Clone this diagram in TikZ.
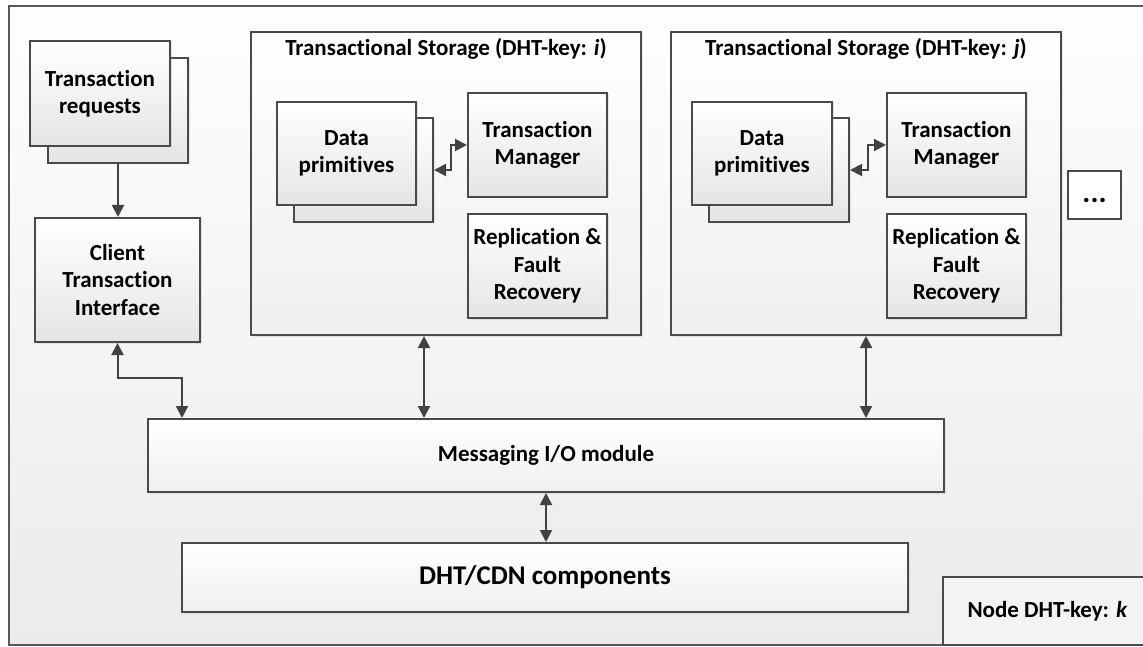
\documentclass[tikz,border=0pt]{standalone}
\usepackage{fontspec}
\setmainfont{Carlito}[Ligatures=NoCommon]
\usetikzlibrary{arrows.meta,shadows,calc}

\definecolor{edgegray}{HTML}{4A4A4A}
\definecolor{arrowgray}{HTML}{424242}
\definecolor{boxbot}{HTML}{E5E5E5}
\definecolor{tsbot}{HTML}{EFEFEF}
\definecolor{framebot}{HTML}{EBEBEB}
\definecolor{frametop}{HTML}{FEFEFE}

\begin{document}
\begin{tikzpicture}[x=1pt,y=-1pt,
  every node/.style={inner sep=0pt, align=center},
  box/.style={draw=edgegray, line width=2pt, top color=white, bottom color=boxbot,
    drop shadow={opacity=0.18, shadow xshift=1.5pt, shadow yshift=-1.5pt}},
  tsbox/.style={draw=edgegray, line width=2pt, top color=white, bottom color=tsbot,
    drop shadow={opacity=0.15, shadow xshift=1.5pt, shadow yshift=-1.5pt}},
  wide/.style={draw=edgegray, line width=2pt, top color=white, bottom color=tsbot,
    drop shadow={opacity=0.15, shadow xshift=1.5pt, shadow yshift=-1.5pt}},
  txt/.style={font=\fontsize{23}{27.5}\selectfont\bfseries},
  ttl/.style={font=\fontsize{23}{27}\selectfont\bfseries},
  tip/.tip={Triangle[length=12pt,width=12pt]},
  conn/.style={draw=arrowgray, line width=2pt, tip-tip},
  oneway/.style={draw=arrowgray, line width=2pt, -tip},
]
\clip (0,0) rectangle (1143,647);

% enclosing node frame
\draw[draw=gray!70!black, line width=1.8pt, top color=frametop, bottom color=framebot]
  (9,6) rectangle (1160,645);

% client side
\node[box, minimum width=140pt, minimum height=105pt] (treqb) at (118,110.5) {};
\node[box, txt, minimum width=140pt, minimum height=105pt] (treq) at (100,93.5) {Transaction\\requests};
\node[box, txt, minimum width=165pt, minimum height=124pt] (client) at (117.5,280) {Client\\Transaction\\Interface};

% transactional storage i
\node[tsbox, minimum width=390pt, minimum height=303pt] (tsi) at (446,183.5) {};
\node[ttl] (tsit) at (446,49) {Transactional Storage (DHT-key: \textit{i})};
\node[box, minimum width=139pt, minimum height=104pt] (dpib) at (363.5,170) {};
\node[box, txt, minimum width=139pt, minimum height=103pt] (dpi) at (346.5,153.5) {Data\\primitives};
\node[box, txt, minimum width=139pt, minimum height=104pt] (tmi) at (537.5,145) {Transaction\\Manager};
\node[box, txt, minimum width=139pt, minimum height=104pt] (rfri) at (537.5,266) {Replication \&\\Fault\\Recovery};

% transactional storage j
\node[tsbox, minimum width=390pt, minimum height=303pt] (tsj) at (866,183.5) {};
\node[ttl] (tsjt) at (866,49) {Transactional Storage (DHT-key: \textit{j})};
\node[box, minimum width=140pt, minimum height=104pt] (dpjb) at (779,170) {};
\node[box, txt, minimum width=140pt, minimum height=103pt] (dpj) at (762,153.5) {Data\\primitives};
\node[box, txt, minimum width=139pt, minimum height=104pt] (tmj) at (956.5,145) {Transaction\\Manager};
\node[box, txt, minimum width=139pt, minimum height=104pt] (rfrj) at (956.5,266) {Replication \&\\Fault\\Recovery};

% further storages
\node[draw=edgegray, line width=2pt, fill=white, font=\fontsize{30}{30}\selectfont\bfseries,
  text height=16pt, text depth=0pt, minimum width=53pt, minimum height=48pt] (more) at (1094.5,195) {...};

% shared layers
\node[wide, font=\fontsize{23}{27}\selectfont\bfseries, minimum width=796pt, minimum height=73pt] (msg) at (546,455.5) {Messaging I/O module};
\node[wide, font=\fontsize{27}{32}\selectfont\bfseries, minimum width=726pt, minimum height=69pt] (dht) at (545,577.5) {DHT/CDN components};

% node label
\node[draw=edgegray, line width=1.8pt, fill=framebot!60!white, font=\fontsize{23}{27}\selectfont\bfseries,
  minimum width=209pt, minimum height=68pt] (nodek) at (1047.5,611) {Node DHT-key: \textit{k}};

% connectors
\draw[oneway] (treqb.south) -- (treqb.south |- client.north);
\draw[conn] (client.south) -- ++(0,35) -| ([xshift=35pt]msg.north west);
\draw[conn] ([xshift=-22pt]tsi.south) -- ([xshift=-22pt]tsi.south |- msg.north);
\draw[conn] (tsj.south) -- (tsj.south |- msg.north);
\draw[conn] (msg.south) -- (msg.south |- dht.north);
\draw[conn] (dpib.east) -| ($(dpib.east)!.5!(tmi.west)$) |- (tmi.west);
\draw[conn] (dpjb.east) -| ($(dpjb.east)!.5!(tmj.west)$) |- (tmj.west);
\end{tikzpicture}
\end{document}
